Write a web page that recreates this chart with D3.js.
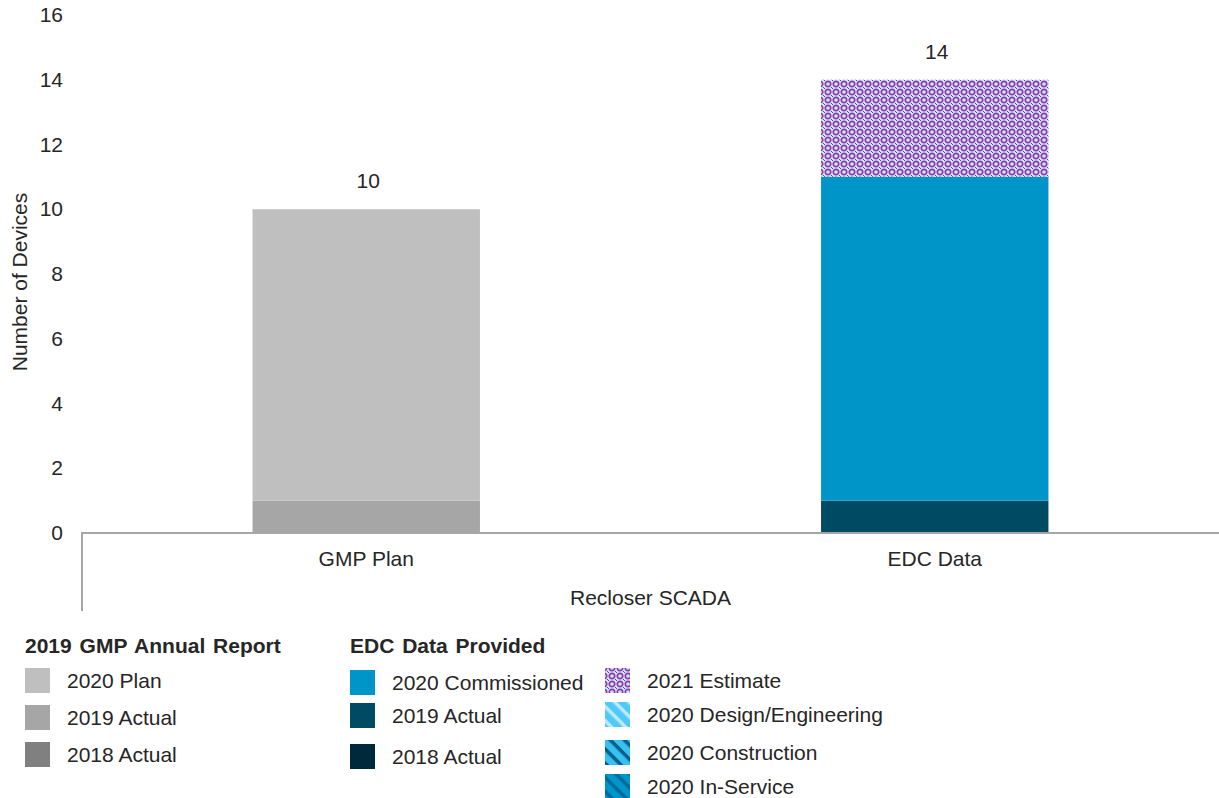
<!DOCTYPE html>
<html>
<head>
<meta charset="utf-8">
<script src="https://cdn.jsdelivr.net/npm/d3@7"></script>
<style>
  body { margin: 0; background: #fff; }
  text { font-family: "Liberation Sans", Arial, sans-serif; fill: #262626; }
</style>
</head>
<body>
<svg id="chart"></svg>
<script>
// Chart data

const categories = ["GMP Plan", "EDC Data"];
const axisTitle = "Recloser SCADA";
const yTicks = [0, 2, 4, 6, 8, 10, 12, 14, 16];

// series values, one per category (bottom of the stack first)
const gmp2018Actual = [0, 0];
const gmp2019Actual = [1, 0];
const gmp2020Plan = [9, 0];
const edc2018Actual = [0, 0];
const edc2019Actual = [0, 1];
const edc2020Commissioned = [0, 10];
const edc2020InService = [0, 0];
const edc2020Construction = [0, 0];
const edc2020Design = [0, 0];
const edc2021Estimate = [0, 3];

const groupTitles = ["2019 GMP Annual Report", "EDC Data Provided"];

// Dimensions

const width = 1219;
const height = 798;
const margin = { top: 15, left: 82, right: 0 };
const plotBottom = 533;
const fontSize = "21px";

const svg = d3.select("#chart")
  .attr("width", width)
  .attr("height", height);

// Patterns

const defs = svg.append("defs");

const est = defs.append("pattern")
  .attr("id", "pat-estimate")
  .attr("patternUnits", "userSpaceOnUse")
  .attr("width", 8).attr("height", 8);
est.append("rect").attr("width", 8).attr("height", 8).attr("fill", "#c4e6ff");
est.append("circle").attr("cx", 4).attr("cy", 4).attr("r", 2.7)
  .attr("fill", "none").attr("stroke", "#9534a6").attr("stroke-width", 1.7);
est.append("rect").attr("x", -1).attr("y", -1).attr("width", 2).attr("height", 2).attr("fill", "#8a2a9a");
est.append("rect").attr("x", 7).attr("y", 7).attr("width", 2).attr("height", 2).attr("fill", "#8a2a9a");

function stripes(id, bg, fg) {
  const p = defs.append("pattern")
    .attr("id", id)
    .attr("patternUnits", "userSpaceOnUse")
    .attr("width", 10).attr("height", 10)
    .attr("patternTransform", "rotate(45)");
  p.append("rect").attr("width", 10).attr("height", 10).attr("fill", bg);
  p.append("rect").attr("width", 10).attr("height", 3.5).attr("fill", fg);
}
stripes("pat-design", "#4fcaf6", "#bde9fb");
stripes("pat-construction", "#3ac0f0", "#00608c");
stripes("pat-inservice", "#0095c8", "#006b98");

// Series definitions (stack order bottom to top)

const series = [
  { key: "gmp2018", name: "2018 Actual", values: gmp2018Actual, fill: "#808080" },
  { key: "gmp2019", name: "2019 Actual", values: gmp2019Actual, fill: "#a6a6a6" },
  { key: "gmp2020", name: "2020 Plan", values: gmp2020Plan, fill: "#bfbfbf" },
  { key: "edc2018", name: "2018 Actual", values: edc2018Actual, fill: "#002a3c" },
  { key: "edc2019", name: "2019 Actual", values: edc2019Actual, fill: "#004b64" },
  { key: "edc2020c", name: "2020 Commissioned", values: edc2020Commissioned, fill: "#0095c8" },
  { key: "edc2020i", name: "2020 In-Service", values: edc2020InService, fill: "url(#pat-inservice)" },
  { key: "edc2020k", name: "2020 Construction", values: edc2020Construction, fill: "url(#pat-construction)" },
  { key: "edc2020d", name: "2020 Design/Engineering", values: edc2020Design, fill: "url(#pat-design)" },
  { key: "edc2021", name: "2021 Estimate", values: edc2021Estimate, fill: "url(#pat-estimate)" }
];

const table = categories.map((c, i) => {
  const row = { category: c };
  series.forEach(s => row[s.key] = s.values[i]);
  return row;
});

const stack = d3.stack().keys(series.map(s => s.key))(table);

// Scales

const x = d3.scaleBand()
  .domain(categories)
  .range([margin.left, width - margin.right])
  .paddingInner(0.6)
  .paddingOuter(0.3);

const y = d3.scaleLinear()
  .domain([0, 16])
  .range([plotBottom, margin.top]);

// Bars

svg.append("g").selectAll("g")
  .data(stack)
  .enter()
  .append("g")
  .attr("fill", (d, i) => series[i].fill)
  .selectAll("rect")
  .data(d => d)
  .enter()
  .append("rect")
  .attr("x", d => x(d.data.category))
  .attr("width", x.bandwidth())
  .attr("y", d => y(d[1]))
  .attr("height", d => y(d[0]) - y(d[1]));

// Totals above the bars

svg.append("g").selectAll("text")
  .data(table)
  .enter()
  .append("text")
  .attr("x", d => x(d.category) + x.bandwidth() / 2 + 2)
  .attr("y", d => y(d3.sum(series, s => d[s.key])) - 21)
  .attr("text-anchor", "middle")
  .style("font-size", fontSize)
  .text(d => d3.sum(series, s => d[s.key]));

// Y axis (labels only)

const yAxis = svg.append("g")
  .attr("transform", "translate(" + (margin.left - 19) + ",0)")
  .call(d3.axisLeft(y).tickValues(yTicks).tickSize(0).tickPadding(0));
yAxis.select(".domain").remove();
yAxis.selectAll("text")
  .style("font-size", fontSize)
  .attr("fill", "#262626");

svg.append("text")
  .attr("transform", "translate(27," + ((plotBottom + margin.top) / 2 + 8) + ") rotate(-90)")
  .attr("text-anchor", "middle")
  .style("font-size", fontSize)
  .text("Number of Devices");

// X axis line and labels

const xAxis = svg.append("g")
  .attr("transform", "translate(0," + plotBottom + ")")
  .call(d3.axisBottom(x).tickSize(0).tickPadding(18));
xAxis.select(".domain").remove();
xAxis.selectAll("text")
  .style("font-size", fontSize)
  .attr("fill", "#262626");

svg.append("path")
  .attr("d", "M" + margin.left + "," + 611 + "V" + plotBottom + "H" + width)
  .attr("fill", "none")
  .attr("stroke", "#a6a6a6")
  .attr("stroke-width", 2);

svg.append("text")
  .attr("x", (margin.left + width) / 2)
  .attr("y", 605)
  .attr("text-anchor", "middle")
  .style("font-size", fontSize)
  .text(axisTitle);

// Legend

const legendCols = [
  { x: 25, title: groupTitles[0], keys: ["gmp2020", "gmp2019", "gmp2018"], rows: [680, 717, 754] },
  { x: 350, title: groupTitles[1], keys: ["edc2020c", "edc2019", "edc2018"], rows: [682, 715, 756] },
  { x: 605, title: null, keys: ["edc2021", "edc2020d", "edc2020k", "edc2020i"], rows: [680, 714, 752, 786] }
];

const legend = svg.append("g");

legendCols.forEach(col => {
  if (col.title) {
    legend.append("text")
      .attr("x", col.x)
      .attr("y", 653)
      .style("font-size", fontSize)
      .style("font-weight", "bold")
      .style("word-spacing", "2px")
      .attr("fill", "#000")
      .text(col.title);
  }
  col.keys.forEach((k, i) => {
    const s = series.find(d => d.key === k);
    legend.append("rect")
      .attr("x", col.x)
      .attr("y", col.rows[i] - 12)
      .attr("width", 25)
      .attr("height", 25)
      .attr("fill", s.fill);
    legend.append("text")
      .attr("x", col.x + 42)
      .attr("y", col.rows[i] + 8)
      .style("font-size", fontSize)
      .text(s.name);
  });
});
</script>
</body>
</html>
